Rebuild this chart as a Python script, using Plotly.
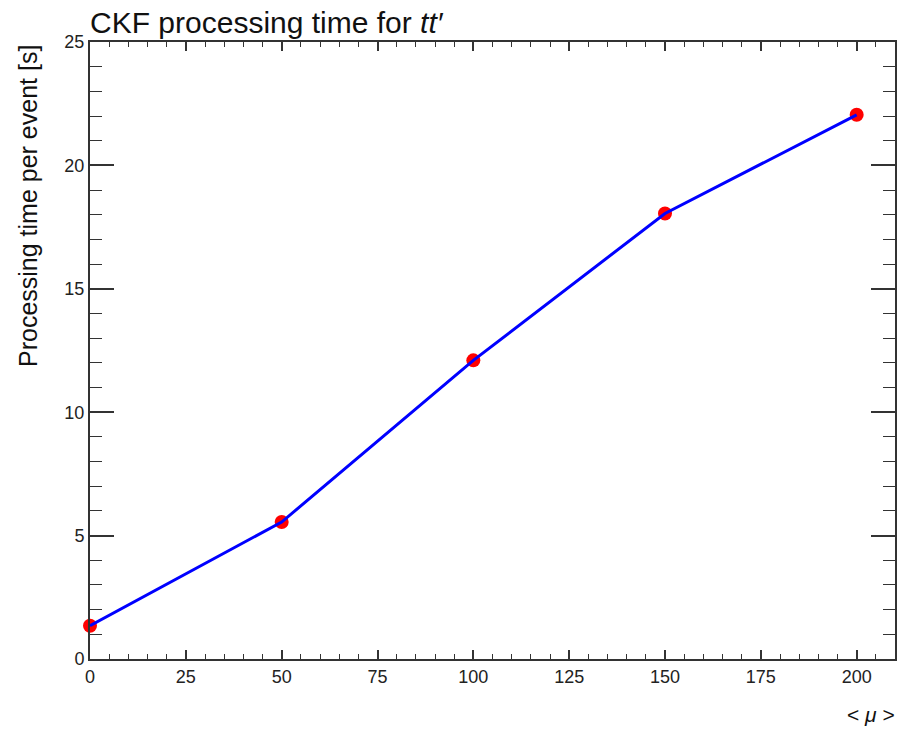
import plotly.graph_objects as go

mu = [0, 50, 100, 150, 200]
proc_time = [1.35, 5.55, 12.1, 18.05, 22.05]
x_ticks = [0, 25, 50, 75, 100, 125, 150, 175, 200]
y_ticks = [0, 5, 10, 15, 20, 25]

FONT = "Liberation Sans, Arial, Helvetica, sans-serif"

fig = go.Figure()
fig.add_trace(go.Scatter(x=mu, y=proc_time, mode="markers",
                         marker=dict(color="#ff0000", size=14, line=dict(width=0)),
                         showlegend=False, cliponaxis=False))
fig.add_trace(go.Scatter(x=mu, y=proc_time, mode="lines",
                         line=dict(color="#0000ff", width=3),
                         showlegend=False, cliponaxis=False))

fig.update_layout(
    width=900, height=729,
    margin=dict(l=90, r=3, t=42, b=70),
    paper_bgcolor="white", plot_bgcolor="white",
    font=dict(family=FONT, color="#222222", size=18),
    xaxis=dict(range=[0, 210], tickvals=x_ticks, ticks="inside", ticklen=9,
               tickwidth=1.5, tickcolor="#333333", showline=True, linewidth=2,
               linecolor="#333333", mirror="allticks", showgrid=False, zeroline=False,
               tickfont=dict(size=18, family=FONT, color="#222222"),
               minor=dict(dtick=5, ticks="inside", ticklen=5, tickwidth=1,
                          tickcolor="#333333", showgrid=False)),
    yaxis=dict(range=[0, 25], tickvals=y_ticks, ticks="inside", ticklen=24,
               tickwidth=1.5, tickcolor="#333333", showline=True, linewidth=2,
               linecolor="#333333", mirror="allticks", showgrid=False, zeroline=False,
               tickfont=dict(size=18, family=FONT, color="#222222"),
               minor=dict(dtick=1, ticks="inside", ticklen=12, tickwidth=1,
                          tickcolor="#333333", showgrid=False)),
    annotations=[
        dict(text="CKF processing time for <i>tt′</i>", xref="paper", yref="paper",
             x=0, y=1.0, xanchor="left", yanchor="bottom", yshift=1, xshift=-2,
             showarrow=False, font=dict(size=30, family=FONT, color="#111111")),
        dict(text="Processing time per event [s]", xref="paper", yref="paper",
             x=0, y=1.0, xanchor="center", yanchor="top", xshift=-62, yshift=-1,
             textangle=-90, showarrow=False,
             font=dict(size=25, family=FONT, color="#111111")),
        dict(text="< <i>μ</i> >", xref="paper", yref="paper",
             x=1.0, y=0, xanchor="right", yanchor="middle", yshift=-55, xshift=1,
             borderpad=0, showarrow=False,
             font=dict(size=21, family=FONT, color="#111111")),
    ],
)

fig.write_html("out.html")
